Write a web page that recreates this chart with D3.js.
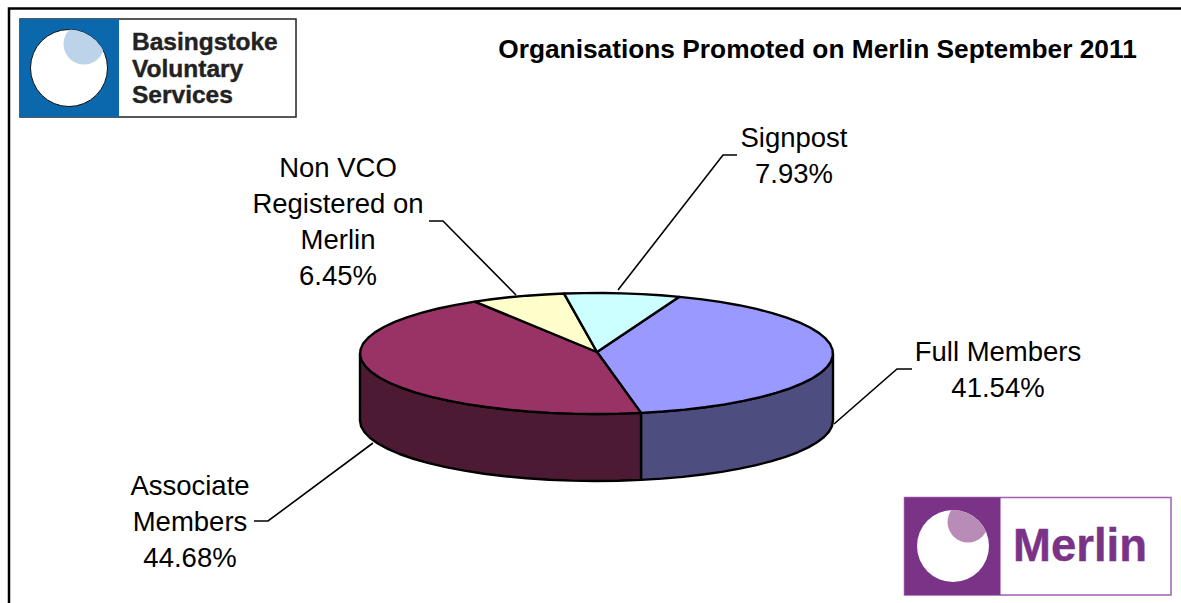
<!DOCTYPE html>
<html>
<head>
<meta charset="utf-8">
<script src="https://cdn.jsdelivr.net/npm/d3@7"></script>
<style>
  html, body { margin: 0; padding: 0; background: #fff; }
  svg { display: block; }
  text { font-family: "Liberation Sans", Arial, sans-serif; }
</style>
</head>
<body>
<svg width="1181" height="603"></svg>
<script>
var categories = ["Full Members", "Associate Members", "Non VCO Registered on Merlin", "Signpost"];
var percents = [41.54, 44.68, 6.45, 7.93];
var percentLabels = ["41.54%", "44.68%", "6.45%", "7.93%"];
var labelLines = [["Full Members"], ["Associate", "Members"], ["Non VCO", "Registered on", "Merlin"], ["Signpost"]];
var topColors = ["#9999ff", "#993366", "#ffffcc", "#ccffff"];
var sideColors = ["#4d4d80", "#4d1a33", "#808066", "#668080"];

var svg = d3.select("svg");

// page frame, open on the right and at the bottom
svg.append("path")
    .attr("d", "M9,603V8.5H1181")
    .attr("fill", "none")
    .attr("stroke", "#000")
    .attr("stroke-width", 2.5);

svg.append("text")
    .attr("x", 817.5)
    .attr("y", 58)
    .attr("text-anchor", "middle")
    .style("font-size", "26.3px")
    .style("font-weight", "bold")
    .text("Organisations Promoted on Merlin September 2011");

// pie geometry
var cx = 596.5, cy = 353.5, rx = 236.5, ry = 60.5, depth = 67;
var hub = [597, 352];

var pie = d3.pie()
    .sort(null)
    .startAngle(20.5 * Math.PI / 180)
    .endAngle(380.5 * Math.PI / 180);

var arcs = pie(percents);

// the reference edge is a coarse polygon, so step around the ellipse
var step = Math.PI / 32;

function rimPoints(a0, a1, drop) {
  var n = Math.max(1, Math.ceil((a1 - a0) / step));
  return d3.range(n + 1).map(function(i) {
    var a = a0 + (a1 - a0) * i / n;
    return [cx + rx * Math.sin(a), cy - ry * Math.cos(a) + drop];
  });
}

var line = d3.line();

// side walls: only the front half of the rim shows
var frontStart = Math.PI / 2, frontEnd = Math.PI * 1.5;

arcs.forEach(function(d, i) {
  var a0 = Math.max(d.startAngle, frontStart),
      a1 = Math.min(d.endAngle, frontEnd);
  if (a1 <= a0) return;
  svg.append("path")
      .attr("d", line(rimPoints(a0, a1, 0).concat(rimPoints(a0, a1, depth).reverse())) + "Z")
      .attr("fill", sideColors[i])
      .attr("stroke", "#000")
      .attr("stroke-width", 2.4)
      .attr("stroke-linejoin", "round");
});

arcs.forEach(function(d, i) {
  svg.append("path")
      .attr("d", line([hub].concat(rimPoints(d.startAngle, d.endAngle, 0))) + "Z")
      .attr("fill", topColors[i])
      .attr("stroke", "#000")
      .attr("stroke-width", 2.4)
      .attr("stroke-linejoin", "round");
});

// leader lines and data labels
var leaders = [
  [[834, 424], [897, 369], [912, 369]],
  [[373, 443], [268, 521], [254, 521]],
  [[516, 295], [443, 221], [429, 221]],
  [[618, 290], [723, 155], [737, 155]]
];
var labelPos = [[998, 361], [190, 495], [338, 177], [794, 147]];
var lineHeight = 36;

leaders.forEach(function(pts) {
  svg.insert("path", ":first-child")
      .attr("d", line(pts))
      .attr("fill", "none")
      .attr("stroke", "#000")
      .attr("stroke-width", 1.6);
});

categories.forEach(function(name, i) {
  var t = svg.append("text")
      .attr("text-anchor", "middle")
      .attr("fill", "#000")
      .style("font-size", "27.5px");
  labelLines[i].concat([percentLabels[i]]).forEach(function(s, j) {
    t.append("tspan")
        .attr("x", labelPos[i][0])
        .attr("y", labelPos[i][1] + j * lineHeight)
        .text(s);
  });
});

// logos
function logo(o) {
  var g = svg.append("g");
  g.append("rect")
      .attr("x", o.x).attr("y", o.y).attr("width", o.w).attr("height", o.h)
      .attr("fill", "#fff").attr("stroke", o.border).attr("stroke-width", 1.5);
  g.append("rect")
      .attr("x", o.x).attr("y", o.y).attr("width", o.split).attr("height", o.h)
      .attr("fill", o.color);
  svg.append("clipPath").attr("id", o.id)
    .append("circle").attr("cx", o.cx).attr("cy", o.cy).attr("r", o.r);
  g.append("circle")
      .attr("cx", o.cx).attr("cy", o.cy).attr("r", o.r)
      .attr("fill", "#fff").attr("stroke", o.ring);
  g.append("circle")
      .attr("clip-path", "url(#" + o.id + ")")
      .attr("cx", o.cx + 15).attr("cy", o.cy - 24).attr("r", 20.5)
      .attr("fill", o.moon);
  o.lines.forEach(function(s, i) {
    g.append("text")
        .attr("x", o.textX)
        .attr("y", o.textY + i * o.textGap)
        .attr("fill", o.textColor)
        .attr("stroke", o.textColor)
        .attr("stroke-width", 0.4)
        .style("font-size", o.textSize + "px")
        .style("font-weight", "bold")
        .text(s);
  });
}

logo({id: "bvs", x: 20, y: 19, w: 276, h: 98, split: 99, color: "#0b68ad", moon: "#bcd3ea",
      border: "#222", cx: 69, cy: 68, r: 38.5, ring: "#111",
      lines: ["Basingstoke", "Voluntary", "Services"], textColor: "#222",
      textX: 132, textY: 50, textGap: 26.5, textSize: 24.5});
logo({id: "merlin", x: 904.5, y: 497.5, w: 266.5, h: 97.5, split: 96, color: "#7b3388", moon: "#b98cb8",
      border: "#a060b0", cx: 953, cy: 546, r: 36, ring: "none",
      lines: ["Merlin"], textColor: "#7b3388",
      textX: 1013, textY: 561, textGap: 0, textSize: 45.5});
</script>
</body>
</html>
